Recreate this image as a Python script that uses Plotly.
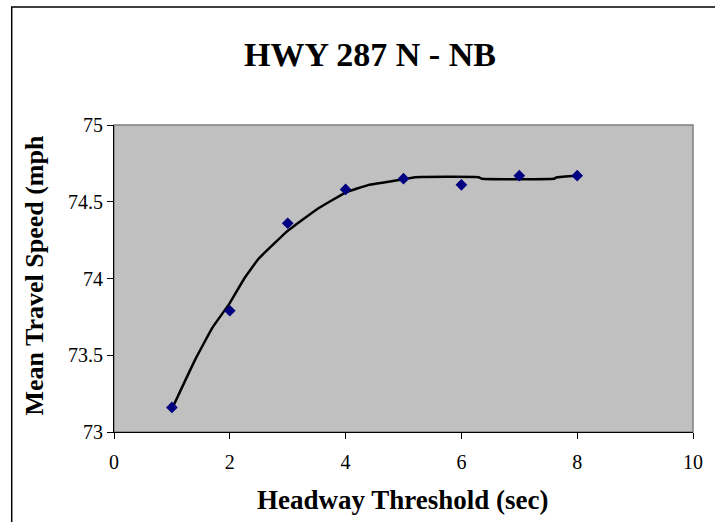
import plotly.graph_objects as go

# Mean travel speed by headway threshold
headway_sec = [1, 2, 3, 4, 5, 6, 7, 8]
mean_speed_mph = [73.16, 73.79, 74.36, 74.58, 74.65, 74.61, 74.67, 74.67]

# Trend line through the observations
trend_x = [1.0, 1.4, 1.7, 2.0, 2.25, 2.5, 3.0, 3.5, 4.0, 4.4, 4.9, 5.2, 6.3, 6.35, 7.6, 7.65, 8.0]
trend_y = [73.15, 73.47, 73.68, 73.84, 74.00, 74.13, 74.31, 74.45, 74.56, 74.61, 74.64, 74.66,
           74.66, 74.65, 74.65, 74.66, 74.67]

x_ticks = [0, 2, 4, 6, 8, 10]
y_ticks = [73, 73.5, 74, 74.5, 75]

W, H = 715, 522
L, R, T, B = 114, 18, 125, 90
PW, PH = W - L - R, H - T - B

def px_x(p):
    return (p - L) / PW

def px_y(p):
    return (H - B - p) / PH

SERIF = "Liberation Serif, Times New Roman, serif"

fig = go.Figure()

fig.add_trace(go.Scatter(
    x=trend_x, y=trend_y, mode="lines",
    line=dict(color="black", width=2.5, shape="spline", smoothing=0.3),
    hoverinfo="skip", showlegend=False,
))
fig.add_trace(go.Scatter(
    x=headway_sec, y=mean_speed_mph, mode="markers",
    marker=dict(symbol="diamond", size=9, color="#000080",
                line=dict(width=0)),
    showlegend=False,
))

axis_common = dict(
    showgrid=False, zeroline=False,
    showline=True, linecolor="black", linewidth=1,
    ticks="outside", ticklen=6, tickcolor="black", tickwidth=1,
    tickfont=dict(family=SERIF, size=20, color="black"),
)

fig.update_xaxes(range=[0, 10], tickvals=x_ticks, ticktext=[str(v) for v in x_ticks],
                 ticklabelstandoff=6, **axis_common)
fig.update_yaxes(range=[73, 75], tickvals=y_ticks, ticktext=[f"{v:g}" for v in y_ticks],
                 **axis_common)

# Plot-area frame (grey on top and right) and outer chart border
fig.add_shape(type="rect", xref="paper", yref="paper", x0=0, x1=1, y0=0, y1=1,
              line=dict(color="#808080", width=1.5), layer="below")
fig.add_shape(type="rect", xref="paper", yref="paper",
              x0=px_x(11), x1=px_x(W + 20), y0=px_y(H + 20), y1=px_y(7),
              line=dict(color="black", width=1.5), layer="below")

fig.add_annotation(text="Headway Threshold (sec)", xref="paper", yref="paper",
                   x=px_x(405), y=px_y(500), xanchor="center", yanchor="middle",
                   showarrow=False,
                   font=dict(family=SERIF, size=27, color="black", weight="bold"))
fig.add_annotation(text="Mean Travel Speed (mph", xref="paper", yref="paper",
                   x=px_x(33), y=px_y(275), xanchor="center", yanchor="middle",
                   textangle=-90, showarrow=False,
                   font=dict(family=SERIF, size=26, color="black", weight="bold"))

fig.update_layout(
    width=W, height=H,
    margin=dict(l=L, r=R, t=T, b=B, pad=0),
    paper_bgcolor="white", plot_bgcolor="#C0C0C0",
    title=dict(text="HWY 287 N - NB", xref="container", yref="container",
               x=370 / W, y=1 - 54 / H, xanchor="center", yanchor="middle",
               font=dict(family=SERIF, size=34, color="black", weight="bold")),
)

fig.write_html("out.html")
